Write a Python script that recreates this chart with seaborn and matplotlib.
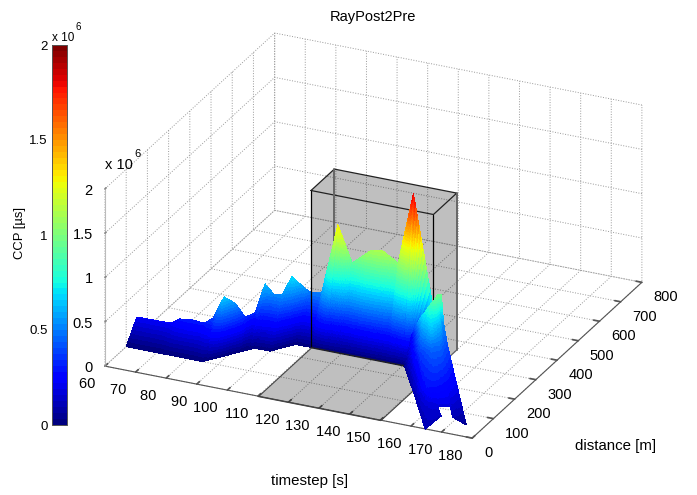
# 3D view of the CCP ribbon over time and distance, with the grey selection box and a jet colorbar.

import numpy as np
import matplotlib
matplotlib.use("Agg")
import matplotlib.pyplot as plt
import seaborn as sns
from matplotlib.colors import Normalize
from matplotlib.cm import ScalarMappable
from mpl_toolkits.mplot3d.art3d import Poly3DCollection

# Main ribbon: near edge lies on the floor, far edge carries the CCP value
bottom_time = [60, 71, 74, 78, 82, 85, 88, 90, 92, 93, 95, 98, 100, 102, 105, 110, 115, 120, 126, 130, 135, 140, 141]
bottom_dist = [100, 100, 100, 100, 100, 100, 130, 150, 170, 180, 200, 200, 200, 220, 250, 250, 250, 250, 250, 250, 250, 250, 245]
top_time = [60, 71, 74, 78, 82, 85, 88.5, 90.3, 92, 93.4, 95, 98, 100.5, 102, 106, 110, 115.3, 120, 126, 130, 135, 140, 146]
top_dist = [150, 150, 150, 150, 150, 150, 150, 175, 200, 225, 250, 250, 250, 275, 300, 300, 300, 300, 300, 300, 300, 300, 300]
top_ccp = [0.225, 0.23, 0.298, 0.315, 0.304, 0.382, 0.644, 0.533, 0.331, 0.332, 0.616, 0.513, 0.529, 0.688, 0.49, 0.506,
           1.31, 0.912, 1.088, 1.114, 1.014, 1.83, 0.67]

# Folded flap at the end of the run, rows from the tips up to the crest
flap_time = [[167.8, 168.3, 165.9, 169.4, 171.1, 175.9],
             [154.4, 160.2, 161.6, 162.7, 163.5, 163.2],
             [141.7, 150.5, 154.9, 156.7, 156.1, 156.4],
             [139.9, 148.9, 153.5, 153.9, 152.3, 152.8],
             [147.0, 149.1, 151.0, 152.7, 153.9, 154.4]]
flap_dist = [[-45.9, 22.7, 34.2, 50.1, 35.0, 31.5],
             [96.9, 75.0, 96.3, 118.8, 130.4, 158.9],
             [233.9, 176.9, 170.7, 186.7, 213.8, 223.9],
             [293.0, 209.5, 190.2, 227.9, 255.9, 257.6],
             [228.3, 220.5, 216.7, 211.3, 213.7, 224.4]]
flap_ccp = [[0.12, 0.12, 0.18, 0.18, 0.10, 0.05],
            [0.10, 0.30, 0.32, 0.30, 0.28, 0.25],
            [0.03, 0.35, 0.45, 0.45, 0.42, 0.40],
            [0.25, 0.55, 0.68, 0.60, 0.55, 0.55],
            [0.62, 0.72, 0.82, 0.90, 0.97, 0.95]]

# Grey selection box and its floor patch
box_time = [110, 150]
box_dist = [250, 360]
box_top = 1.77
floor_dist = [0, 250]

time_ticks = list(range(60, 181, 10))
dist_ticks = list(range(0, 801, 100))
ccp_ticks = [0, 0.5, 1, 1.5, 2]
ccp_labels = ["0", "0.5", "1", "1.5", "2"]

sns.set_theme(style="white", font="Liberation Sans",
              rc={"text.color": "black", "axes.labelcolor": "black", "xtick.color": "black", "ytick.color": "black"})

jet = plt.get_cmap("jet", 64)
norm = Normalize(0, 2e6)
W, H = 697, 495


def refine(grid, nrow, ncol):
    # subdivide a coarse grid so the colours come out as smooth bands
    grid = np.asarray(grid, dtype=float)
    rows = np.linspace(0, grid.shape[0] - 1, nrow)
    cols = np.linspace(0, grid.shape[1] - 1, ncol)
    by_col = np.array([np.interp(rows, np.arange(grid.shape[0]), grid[:, j]) for j in range(grid.shape[1])]).T
    return np.array([np.interp(cols, np.arange(grid.shape[1]), r) for r in by_col])


def align_labels(axis, ha, va):
    for tick in axis.get_major_ticks():
        tick.label1.set_ha(ha)
        tick.label1.set_va(va)


fig = plt.figure(figsize=(W / 100, H / 100), dpi=100)
ax = fig.add_axes([72 / W, -42 / H, 587 / W, 587 / H], projection="3d", proj_type="ortho", computed_zorder=False)
ax.view_init(elev=25.1, azim=-65.2)
ax.set_box_aspect((1, 1, 0.484), zoom=1)
ax.patch.set_alpha(0)

# Surfaces
wall_t = refine([bottom_time, top_time], 200, 221)
wall_d = refine([bottom_dist, top_dist], 200, 221)
wall_z = refine([[0] * len(top_ccp), top_ccp], 200, 221) * 1e6
wall = ax.plot_surface(wall_t, wall_d, wall_z, cmap=jet, norm=norm, rstride=1, cstride=1, zorder=3, shade=False,
                       linewidth=0, antialiased=False)

flap_t = refine(flap_time, 121, 61)
flap_d = refine(flap_dist, 121, 61)
flap_z = refine(flap_ccp, 121, 61) * 1e6
flap = ax.plot_surface(flap_t, flap_d, flap_z, cmap=jet, norm=norm, rstride=1, cstride=1, zorder=5, shade=False,
                       linewidth=0, antialiased=False)

# Box faces that are visible from this view, they do not overlap on screen
t0, t1 = box_time
d0, d1 = box_dist
z1 = box_top * 1e6
faces = [[(t0, d0, 0), (t1, d0, 0), (t1, d0, z1), (t0, d0, z1)],
         [(t1, d0, 0), (t1, d1, 0), (t1, d1, z1), (t1, d0, z1)],
         [(t0, d0, z1), (t1, d0, z1), (t1, d1, z1), (t0, d1, z1)]]
ax.add_collection3d(Poly3DCollection(faces, facecolors=(0, 0, 0, 0.25), edgecolors="none", zorder=1))
floor = [[(t0, floor_dist[0], 0), (t1, floor_dist[0], 0), (t1, floor_dist[1], 0), (t0, floor_dist[1], 0)]]
ax.add_collection3d(Poly3DCollection(floor, facecolors=(0, 0, 0, 0.25), edgecolors="#444444", linewidths=0.8, zorder=1))

# Box edges
ax.plot([t0, t1, t1, t0, t0], [d0, d0, d1, d1, d0], [z1] * 5, color="#222222", lw=0.9, zorder=2)
ax.plot([t1, t1], [d0, d0], [0, z1], color="black", lw=0.9, zorder=2)
ax.plot([t0, t0], [d1, d1], [0, z1], color="#666666", lw=1.4, zorder=2)
ax.plot([t1, t1], [d1, d1], [0, z1], color="#666666", lw=1.4, zorder=2)
ax.plot([t1, t1], [d0, d1], [0, 0], color="#666666", lw=0.9, zorder=2)
ax.plot([t0, t0], [d0, d0], [0, z1], color="black", lw=0.9, zorder=4)
ax.plot([t0, t1], [d0, d0], [0, 0], color="#222222", lw=0.9, zorder=4)

# Axes
ax.set_xlim(60, 180)
ax.set_ylim(0, 800)
ax.set_zlim(0, 2e6)
ax.set_xticks(time_ticks, labels=[f"{t} " for t in time_ticks])
ax.set_yticks(dist_ticks)
ax.set_zticks([v * 1e6 for v in ccp_ticks])
ax.set_zticklabels(ccp_labels)
ax.zaxis.set_ticks_position("lower")
ax.tick_params(axis="x", labelsize=10.5, pad=-1, color="#555555")
ax.tick_params(axis="y", labelsize=10.5, pad=-1, color="#555555")
ax.tick_params(axis="z", labelsize=10.5, pad=-3, color="#888888")
for axis in [ax.xaxis, ax.yaxis, ax.zaxis]:
    axis.set_pane_color((1, 1, 1, 0))
    axis.pane.set_edgecolor("none")
    axis.line.set_color("#555555")
    axis.line.set_linewidth(0.8)
    axis._axinfo["grid"].update(color="#999999", linestyle=":", linewidth=0.7)
    axis._axinfo["tick"].update(inward_factor=0, outward_factor=0.2)
ax.zaxis._axinfo["tick"].update(inward_factor=0, outward_factor=0.08)
ax.zaxis.line.set_color("#bbbbbb")
align_labels(ax.xaxis, "right", "top")
align_labels(ax.yaxis, "left", "top")
align_labels(ax.zaxis, "right", "center")

# Colorbar
cax = fig.add_axes([52 / W, 1 - 425 / H, 15 / W, 380 / H])
cbar = fig.colorbar(ScalarMappable(norm=norm, cmap=jet), cax=cax)
cbar.set_ticks([v * 1e6 for v in ccp_ticks], labels=ccp_labels)
cax.tick_params(direction="in", length=2, width=0.5, left=True, right=True, labelleft=True, labelright=False,
                labelsize=9.5, pad=3)
cbar.outline.set_edgecolor("#555555")
cbar.outline.set_linewidth(0.7)

# Texts placed in pixels of the figure
fig.text(373 / W, 1 - 17 / H, "RayPost2Pre", ha="center", va="center", fontsize=10.5)
fig.text(310 / W, 1 - 481 / H, "timestep [s]", ha="center", va="center", fontsize=10.8)
fig.text(616 / W, 1 - 446 / H, "distance [m]", ha="center", va="center", fontsize=10.8)
fig.text(20 / W, 1 - 233 / H, "CCP [\u00b5s]", ha="center", va="center", rotation=90, fontsize=9.4)
fig.text(52 / W, 1 - 38 / H, "x 10", ha="left", va="center", fontsize=8.5)
fig.text(76 / W, 1 - 27 / H, "6", ha="left", va="center", fontsize=7)
fig.text(105 / W, 1 - 165 / H, "x 10", ha="left", va="center", fontsize=10.5)
fig.text(134 / W, 1 - 154 / H, "6", ha="left", va="center", fontsize=8)

fig.savefig("out.png", dpi=100)
plt.close(fig)
